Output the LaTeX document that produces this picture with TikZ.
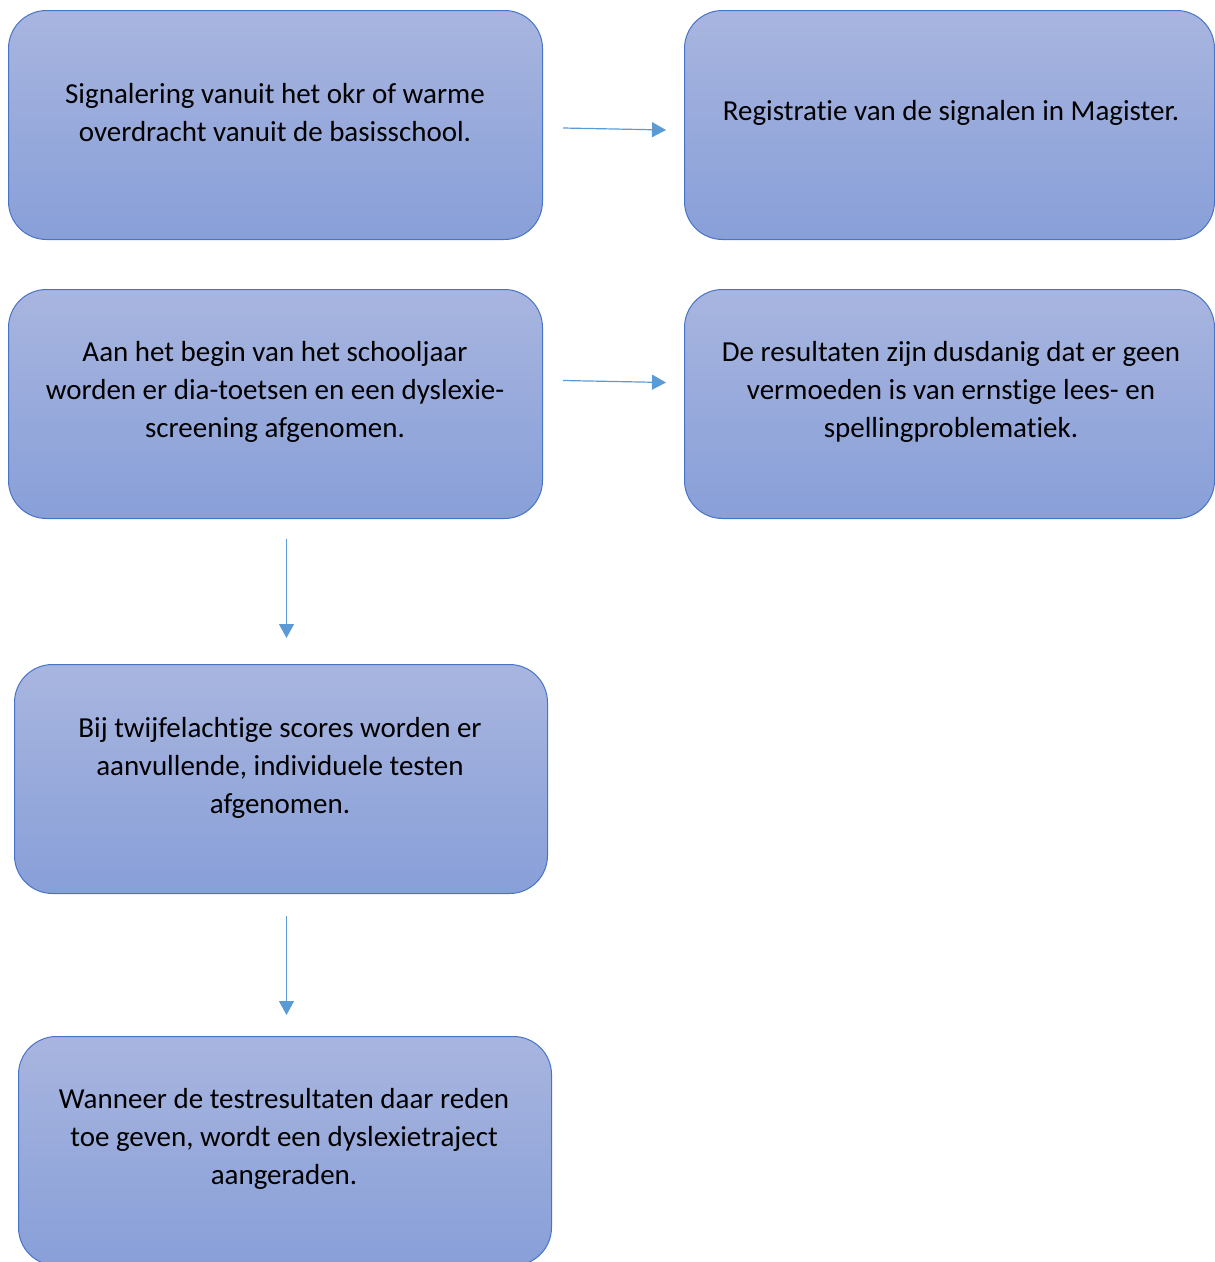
\documentclass[tikz,border=0pt]{standalone}
\usepackage{fontspec}
\setmainfont{Carlito}[Ligatures=NoCommon]
\usetikzlibrary{arrows.meta,calc}
\definecolor{boxtop}{RGB}{168,181,223}
\definecolor{boxbot}{RGB}{136,159,216}
\definecolor{boxline}{RGB}{72,116,200}
\definecolor{arrowc}{RGB}{91,155,213}
\tikzset{
  flowbox/.style={draw=boxline, line width=1pt, rounded corners=38pt,
    top color=boxtop, bottom color=boxbot, minimum width=#1, minimum height=229pt,
    inner sep=0pt, anchor=north west},
  flowbox/.default=534pt,
  boxtext/.style={align=center, font=\fontsize{29}{38}\selectfont, text=black, inner sep=0pt},
  flowarrow/.style={draw=arrowc, line width=1.2pt, -{Triangle[length=14pt,width=15pt]}}
}
\begin{document}
\begin{tikzpicture}[x=1pt,y=-1pt]
\useasboundingbox (0,0) rectangle (1215,1262);
\begin{scope}
\clip (0,0) rectangle (1215,1262);
\node[flowbox] (b1) at (8,10) {};
\node[flowbox=530pt] (b2) at (684,10) {};
\node[flowbox] (b3) at (8,289) {};
\node[flowbox=530pt] (b4) at (684,289) {};
\node[flowbox=533pt] (b5) at (14,664) {};
\node[flowbox=533pt] (b6) at (18,1036) {};
\end{scope}
\node[boxtext] (t1) at (275,113) {Signalering vanuit het okr of warme\\overdracht vanuit de basisschool.};
\node[boxtext] (t2) at (951,113) {Registratie van de signalen in Magister.};
\node[boxtext] (t3) at (275,392) {Aan het begin van het schooljaar\\worden er dia-toetsen en een dyslexie-\\screening afgenomen.};
\node[boxtext] (t4) at (951,392) {De resultaten zijn dusdanig dat er geen\\vermoeden is van ernstige lees- en\\spellingproblematiek.};
\node[boxtext] (t5) at (280,768) {Bij twijfelachtige scores worden er\\aanvullende, individuele testen\\afgenomen.};
\node[boxtext] (t6) at (284,1139) {Wanneer de testresultaten daar reden\\toe geven, wordt een dyslexietraject\\aangeraden.};
\coordinate (a1s) at ($(b1.east)+(20,3)$);
\coordinate (a1e) at ($(b2.west)+(-18,5)$);
\draw[flowarrow] (a1s) -- (a1e);
\coordinate (a2s) at ($(b3.east)+(20,-23.5)$);
\coordinate (a2e) at ($(b4.west)+(-18,-21.5)$);
\draw[flowarrow] (a2s) -- (a2e);
\coordinate (a3s) at ($(b3.south)+(11,20)$);
\coordinate (a3e) at ($(b5.north)+(5.5,-26)$);
\draw[flowarrow] (a3s) -- (a3e);
\coordinate (a4s) at ($(b5.south)+(5.5,22)$);
\coordinate (a4e) at ($(b6.north)+(1.5,-21)$);
\draw[flowarrow] (a4s) -- (a4e);
\end{tikzpicture}
\end{document}
